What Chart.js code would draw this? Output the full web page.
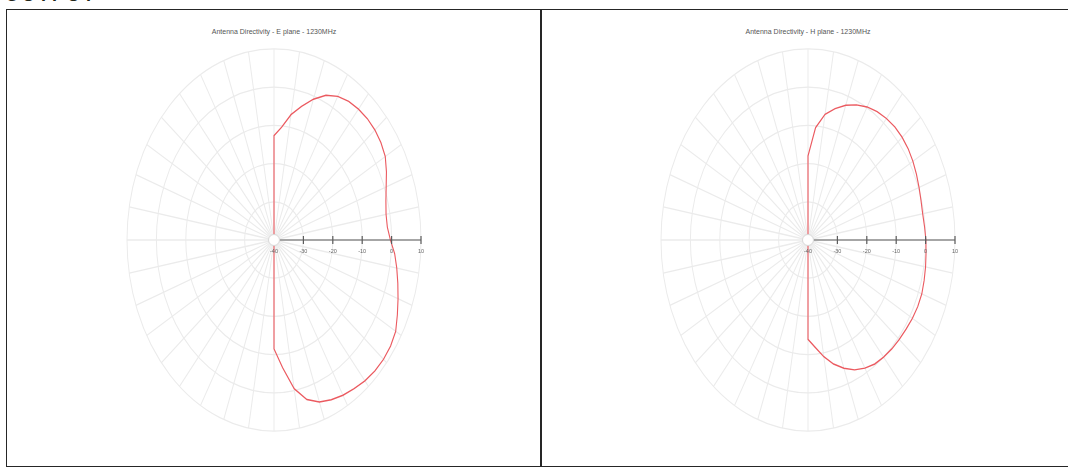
<!DOCTYPE html>
<html>
<head>
<meta charset="utf-8">
<script src="https://cdn.jsdelivr.net/npm/chart.js@4.4.1/dist/chart.umd.min.js"></script>
<style>
body{margin:0;width:1068px;height:468px;overflow:hidden;background:#fff;position:relative;font-family:"Liberation Sans",Arial,sans-serif}
.head{position:absolute;left:5px;top:-15px;font-weight:bold;font-size:18px;letter-spacing:3px;color:#1f261a}
.panel{position:absolute;top:9px;height:458px;border:1.5px solid #262626;box-sizing:border-box}
#p1{left:6px;width:536px}
#p2{left:540px;width:540px}
.title{position:absolute;top:28px;width:300px;text-align:center;font-size:7px;line-height:8px;color:#555}
canvas{position:absolute}
</style>
</head>
<body>
<div class="head">OUTPUT</div>
<div class="panel" id="p1"></div>
<div class="panel" id="p2"></div>
<div class="title" id="t1" style="left:124px"></div>
<div class="title" id="t2" style="left:658px"></div>
<canvas id="eplane" width="310" height="400" style="left:119px;top:40px"></canvas>
<canvas id="hplane" width="310" height="400" style="left:653px;top:40px"></canvas>
<script>
// bearing in degrees, clockwise from the +x axis (0 = right, 90 = down)
const angles = [0,5,10,15,20,25,30,35,40,45,50,55,60,65,70,75,80,85,
  90,95,100,105,110,115,120,125,130,135,140,145,150,155,160,165,170,175,
  180,185,190,195,200,205,210,215,220,225,230,235,240,245,250,255,260,265,
  270,275,280,285,290,295,300,305,310,315,320,325,330,335,340,345,350,355];

// directivity in dB, null = back hemisphere (not plotted)
const ePlane = [-0.4,1.2,2.4,3.6,4.9,6.3,7.8,8.4,8.6,8.5,8.1,7.5,6.9,6.1,5.1,3.2,-0.5,-6.5,
  -11.5,null,null,null,null,null,null,null,null,null,null,null,null,null,null,null,null,null,
  null,null,null,null,null,null,null,null,null,null,null,null,null,null,null,null,null,null,
  -12.7,-10.4,-6.7,-3.8,-0.8,1.8,3.4,4.3,4.7,4.9,4.8,4.4,3.7,2.2,0.6,-0.6,-1.3,-1.3];
const hPlane = [0.1,0.3,0.6,0.9,1.2,1.2,1.0,0.7,0.5,0.3,0.0,-0.4,-1.3,-2.5,-4.3,-6.4,-9.0,-11.8,
  -14.0,null,null,null,null,null,null,null,null,null,null,null,null,null,null,null,null,null,
  null,null,null,null,null,null,null,null,null,null,null,null,null,null,null,null,null,null,
  -18.0,-10.5,-6.6,-4.4,-2.5,-1.0,0.2,1.0,1.5,1.8,1.8,1.6,1.2,0.7,0.2,-0.2,-0.4,-0.2];

const radialTicks = [-40,-30,-20,-10,0,10];
const titles = ["Antenna Directivity - E plane - 1230MHz","Antenna Directivity - H plane - 1230MHz"];

const STRETCH = 1.3; // the plot is taller than wide
const gridColor = "#ebebeb";
const lineColor = "#eb5a60";

const polarAxis = {
  id:"polarAxis",
  beforeDraw(chart){
    const s = chart.scales.r, ctx = chart.ctx;
    ctx.save();
    ctx.translate(s.xCenter, s.yCenter);
    ctx.scale(1, STRETCH);
    ctx.translate(-s.xCenter, -s.yCenter);
  },
  afterDraw(chart){
    const s = chart.scales.r, ctx = chart.ctx;
    ctx.restore();
    const x0 = s.xCenter, y0 = s.yCenter;
    ctx.save();
    ctx.beginPath();
    ctx.arc(x0, y0, 5.5, 0, Math.PI*2);
    ctx.fillStyle = "#fff";
    ctx.fill();
    ctx.strokeStyle = "#d8d8d8";
    ctx.lineWidth = 1;
    ctx.stroke();
    ctx.strokeStyle = "#5c5c5c";
    ctx.lineWidth = 1.2;
    ctx.beginPath();
    ctx.moveTo(x0 + 6, y0);
    ctx.lineTo(x0 + s.getDistanceFromCenterForValue(radialTicks[radialTicks.length-1]), y0);
    ctx.stroke();
    ctx.font = "5.5px 'Liberation Sans'";
    ctx.fillStyle = "#666";
    ctx.textAlign = "center";
    ctx.textBaseline = "middle";
    radialTicks.forEach((v,i) => {
      const x = x0 + s.getDistanceFromCenterForValue(v);
      if(i > 0){
        ctx.beginPath();
        ctx.moveTo(x, y0 - 4);
        ctx.lineTo(x, y0 + 4);
        ctx.stroke();
      }
      ctx.fillText(String(v), x, y0 + 11);
    });
    ctx.restore();
  }
};

function makeChart(id, values){
  return new Chart(document.getElementById(id), {
    type:"radar",
    data:{labels:angles, datasets:[{data:values, borderColor:lineColor, borderWidth:1.1, fill:false, spanGaps:true, pointRadius:0, tension:0}]},
    options:{
      responsive:false, animation:false,
      layout:{padding:{left:8, right:8, top:0, bottom:0}},
      plugins:{legend:{display:false}, tooltip:{enabled:false}, title:{display:false}},
      scales:{r:{
        startAngle:90,
        min:radialTicks[0], max:radialTicks[radialTicks.length-1],
        ticks:{display:false, stepSize:10},
        pointLabels:{display:false},
        grid:{circular:true, color:gridColor, lineWidth:1},
        angleLines:{color:gridColor, lineWidth:(ctx)=> ctx.index % 2 ? 0 : 1}
      }}
    },
    plugins:[polarAxis]
  });
}

document.getElementById("t1").textContent = titles[0];
document.getElementById("t2").textContent = titles[1];
makeChart("eplane", ePlane);
makeChart("hplane", hPlane);
</script>
</body>
</html>
